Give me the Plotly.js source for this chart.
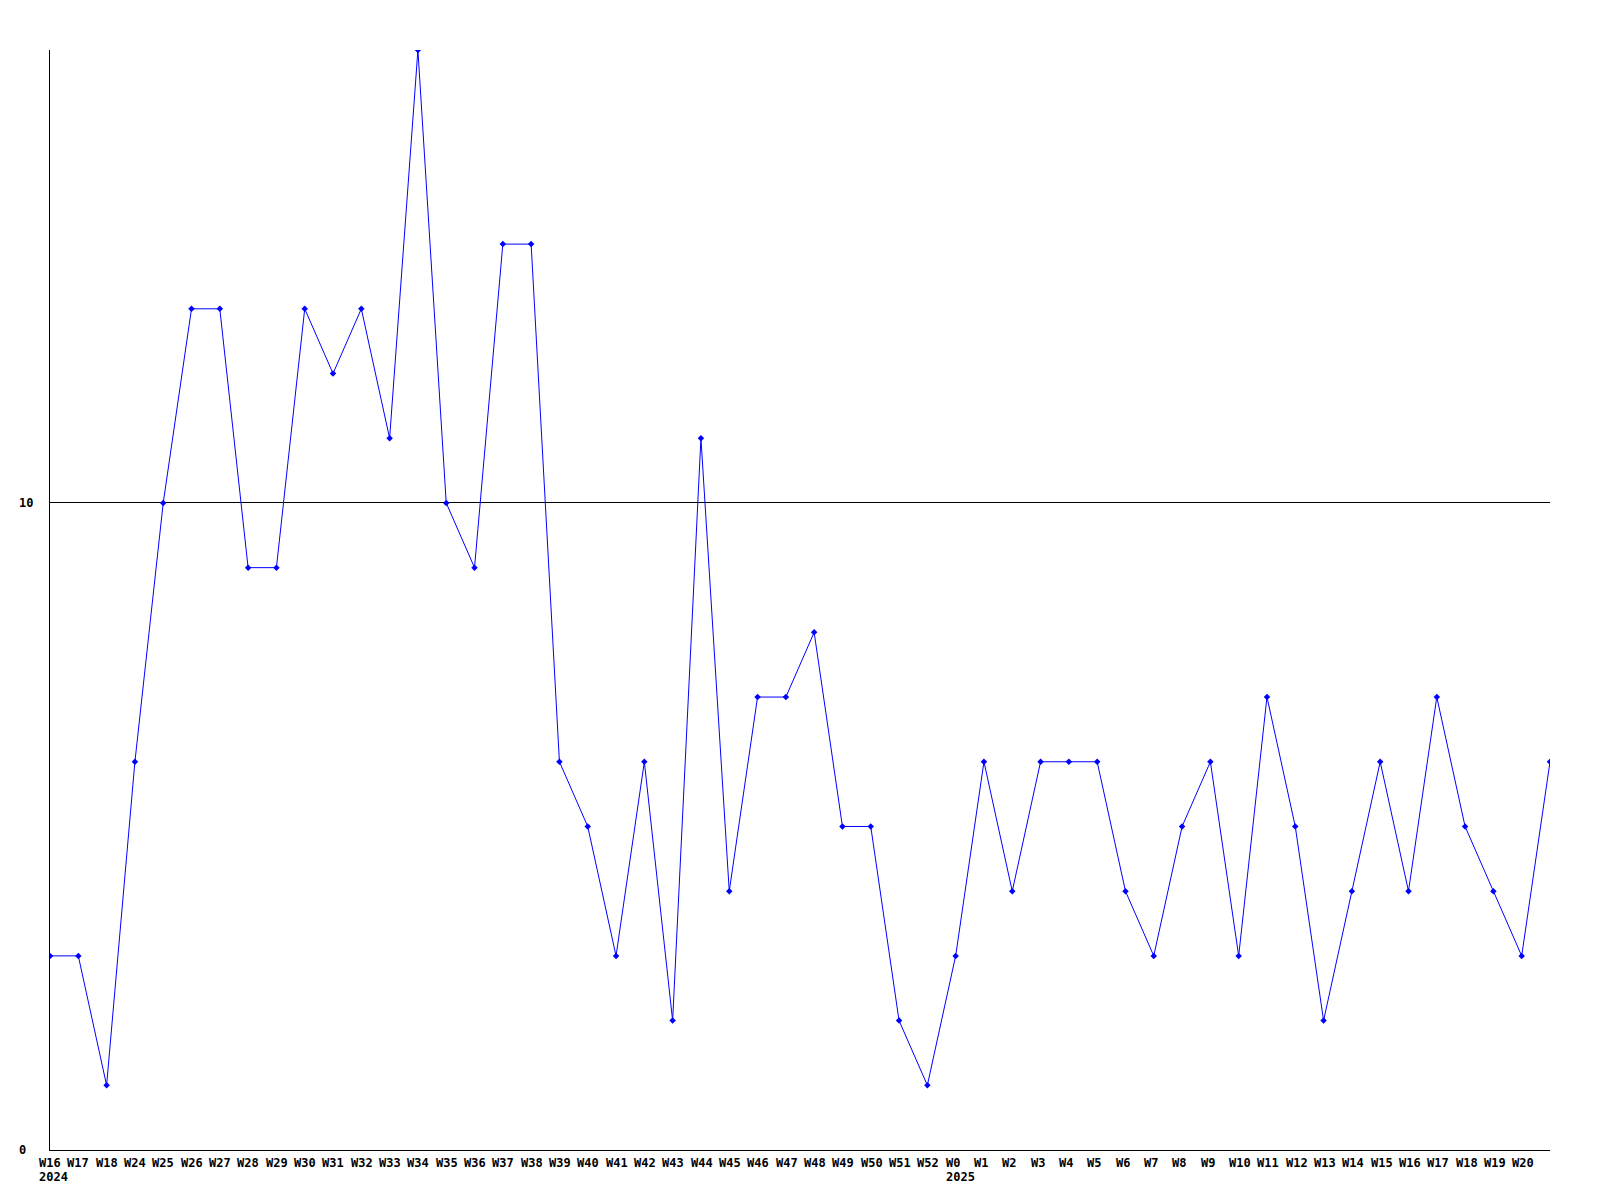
<!DOCTYPE html>
<html>
<head>
<meta charset="utf-8">
<script src="https://cdn.plot.ly/plotly-3.0.1.min.js"></script>
<style>html,body{margin:0;padding:0;background:#fff;}#chart{width:1600px;height:1200px;}</style>
</head>
<body>
<div id="chart"></div>
<script>
const weekLabels = ["W16","W17","W18","W24","W25","W26","W27","W28","W29","W30","W31","W32","W33","W34","W35","W36","W37","W38","W39","W40","W41","W42","W43","W44","W45","W46","W47","W48","W49","W50","W51","W52","W0","W1","W2","W3","W4","W5","W6","W7","W8","W9","W10","W11","W12","W13","W14","W15","W16","W17","W18","W19","W20",""];
const values = [3,3,1,6,10,13,13,9,9,13,12,13,11,17,10,9,14,14,6,5,3,6,2,11,4,7,7,8,5,5,2,1,3,6,4,6,6,6,4,3,5,6,3,7,5,2,4,6,4,7,5,4,3,6];
const yearLabels = [{index:0, text:"2024"},{index:32, text:"2025"}];
const yTicks = [0,10];

const L = 50, R = 50, T = 50, B = 50, W = 1600, H = 1200;
const PW = W - L - R, PH = H - T - B;
const labelStart = 39, labelStep = 28.33;
const font = {family: "DejaVu Sans Mono, monospace", size: 12, color: "#000"};
const xs = values.map((v, i) => i);

const annotations = [];
weekLabels.forEach((t, i) => {
  if (!t) return;
  annotations.push({
    xref: "paper", yref: "paper",
    x: (labelStart + labelStep * i - L) / PW,
    y: (T + PH - 1162.5) / PH,
    xanchor: "left", yanchor: "middle",
    text: "<b>" + t + "</b>", showarrow: false, font: font,
    borderpad: 0, borderwidth: 0
  });
});
yearLabels.forEach(o => {
  annotations.push({
    xref: "paper", yref: "paper",
    x: (labelStart + labelStep * o.index - L) / PW,
    y: (T + PH - 1177) / PH,
    xanchor: "left", yanchor: "middle",
    text: "<b>" + o.text + "</b>", showarrow: false, font: font,
    borderpad: 0, borderwidth: 0
  });
});
yTicks.forEach(v => {
  annotations.push({
    xref: "paper", yref: "y",
    x: (19 - L) / PW, y: v,
    xanchor: "left", yanchor: "middle",
    text: "<b>" + v + "</b>", showarrow: false, font: font,
    borderpad: 0, borderwidth: 0
  });
});

const trace = {
  x: xs, y: values, type: "scatter", mode: "lines+markers",
  line: {color: "#0000ff", width: 1},
  marker: {color: "#0000ff", symbol: "diamond", size: 5},
  hoverinfo: "skip"
};

const layout = {
  width: W, height: H,
  margin: {l: L, r: R, t: T, b: B, pad: 0},
  paper_bgcolor: "#fff", plot_bgcolor: "#fff",
  showlegend: false,
  xaxis: {range: [0, values.length - 1], showgrid: false, zeroline: false,
          showline: true, linecolor: "#000", linewidth: 1, showticklabels: false, ticks: ""},
  yaxis: {range: [0, 17], tickvals: yTicks, showgrid: true, gridcolor: "#000", gridwidth: 1,
          zeroline: false, showline: true, linecolor: "#000", linewidth: 1,
          showticklabels: false, ticks: ""},
  annotations: annotations
};

Plotly.newPlot("chart", [trace], layout, {displayModeBar: false, staticPlot: true});
</script>
</body>
</html>
